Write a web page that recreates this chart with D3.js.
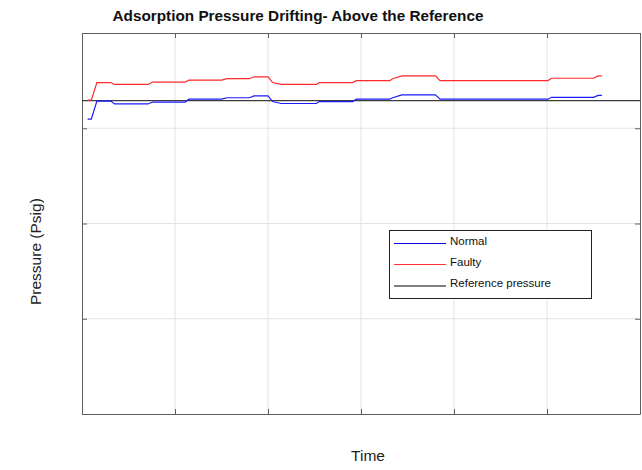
<!DOCTYPE html>
<html>
<head>
<meta charset="utf-8">
<script src="https://cdn.jsdelivr.net/npm/d3@7"></script>
<style>
  body { margin: 0; background: #fff; }
  svg { display: block; font-family: "Liberation Sans", Arial, sans-serif; }
</style>
</head>
<body>
<svg id="chart" width="642" height="470"></svg>
<script>
// Sample times (s) shared by both pressure traces
const times = [6, 10, 16, 31, 35, 71, 76, 111, 115, 150, 156, 180, 185, 200, 205, 214,
  252, 255, 291, 295, 331, 334, 344, 380, 385, 501, 505, 550, 555, 559];
// Normal adsorption pressure (Psig)
const normalValues = [61.9, 61.9, 65.7, 65.7, 65.1, 65.1, 65.5, 65.5, 66.1, 66.1, 66.4, 66.4,
  66.8, 66.8, 65.6, 65.2, 65.2, 65.6, 65.6, 66.1, 66.1, 66.4, 67.0, 67.0, 66.1, 66.1,
  66.5, 66.5, 66.9, 66.9];
// Faulty adsorption pressure (Psig), drifting above the reference
const faultyValues = [65.9, 65.9, 69.6, 69.6, 69.2, 69.2, 69.7, 69.7, 70.1, 70.1, 70.4, 70.4,
  70.8, 70.8, 69.6, 69.2, 69.2, 69.6, 69.6, 70.0, 70.0, 70.4, 71.0, 71.0, 70.0, 70.0,
  70.5, 70.5, 71.0, 71.0];
// Reference pressure (Psig)
const referencePressure = 65.8;
const xTicks = [0, 100, 200, 300, 400, 500, 600];
const yTicks = [0, 20, 40, 60, 80];
const legendLabels = ["Normal", "Faulty", "Reference pressure"];

const svg = d3.select("#chart");
const plotLeft = 82, plotRight = 640, plotTop = 33, plotBottom = 414;

const x = d3.scaleLinear().domain([0, 600]).range([plotLeft, plotRight]);
const y = d3.scaleLinear().domain([0, 80]).range([plotBottom, plotTop]);

// grid
const grid = svg.append("g").attr("stroke", "#e3e3e3").attr("stroke-width", 1);
grid.selectAll(".vx").data(xTicks.slice(1, -1)).join("line")
  .attr("x1", d => x(d)).attr("x2", d => x(d)).attr("y1", plotTop).attr("y2", plotBottom);
grid.selectAll(".hy").data(yTicks.slice(1, -1)).join("line")
  .attr("x1", plotLeft).attr("x2", plotRight).attr("y1", d => y(d)).attr("y2", d => y(d));

// axes with inward ticks on all four sides, no labels
function styleAxis(g) {
  g.select(".domain").attr("stroke", "#5f5f5f");
  g.selectAll(".tick line").attr("stroke", "#5f5f5f");
  g.selectAll(".tick text").remove();
}
svg.append("g").attr("transform", `translate(0,${plotBottom})`)
  .call(d3.axisTop(x).tickValues(xTicks).tickSize(5).tickSizeOuter(0)).call(styleAxis);
svg.append("g").attr("transform", `translate(0,${plotTop})`)
  .call(d3.axisBottom(x).tickValues(xTicks).tickSize(5).tickSizeOuter(0)).call(styleAxis);
svg.append("g").attr("transform", `translate(${plotLeft},0)`)
  .call(d3.axisRight(y).tickValues(yTicks).tickSize(5).tickSizeOuter(0)).call(styleAxis);
svg.append("g").attr("transform", `translate(${plotRight},0)`)
  .call(d3.axisLeft(y).tickValues(yTicks).tickSize(5).tickSizeOuter(0)).call(styleAxis);

// reference line
svg.append("line")
  .attr("x1", x(0)).attr("x2", x(600))
  .attr("y1", y(referencePressure)).attr("y2", y(referencePressure))
  .attr("stroke", "#3c3c3c").attr("stroke-width", 1.2);

const line = d3.line().x((d, i) => x(times[i])).y(d => y(d));
svg.append("path").datum(faultyValues).attr("d", line)
  .attr("fill", "none").attr("stroke", "#ff2a2a").attr("stroke-width", 1.2);
svg.append("path").datum(normalValues).attr("d", line)
  .attr("fill", "none").attr("stroke", "#1a1aff").attr("stroke-width", 1.2);

// title and axis labels
svg.append("text").attr("x", 298).attr("y", 21).attr("text-anchor", "middle")
  .attr("font-size", 15.3).attr("font-weight", "bold").attr("fill", "#111")
  .text("Adsorption Pressure Drifting- Above the Reference");
svg.append("text").attr("x", 368).attr("y", 461).attr("text-anchor", "middle")
  .attr("font-size", 15.5).attr("fill", "#222").text("Time");
svg.append("text").attr("transform", "translate(41,305) rotate(-90)").attr("text-anchor", "start")
  .attr("font-size", 15.5).attr("fill", "#222").text("Pressure (Psig)");

// legend
const lg = svg.append("g");
lg.append("rect").attr("x", 389.5).attr("y", 230.5).attr("width", 202).attr("height", 68)
  .attr("fill", "#fff").attr("stroke", "#222").attr("stroke-width", 1);
const legendColors = ["#0000e0", "#ff3030", "#808080"];
const legendWidths = [1.2, 1.2, 2];
const ly = [243.5, 264.5, 286];
legendLabels.forEach((lab, i) => {
  lg.append("line").attr("x1", 394).attr("x2", 446).attr("y1", ly[i]).attr("y2", ly[i])
    .attr("stroke", legendColors[i]).attr("stroke-width", legendWidths[i]);
  lg.append("text").attr("x", 450).attr("y", ly[i] + 1).attr("font-size", 11.5).attr("fill", "#111")
    .text(lab);
});
</script>
</body>
</html>
